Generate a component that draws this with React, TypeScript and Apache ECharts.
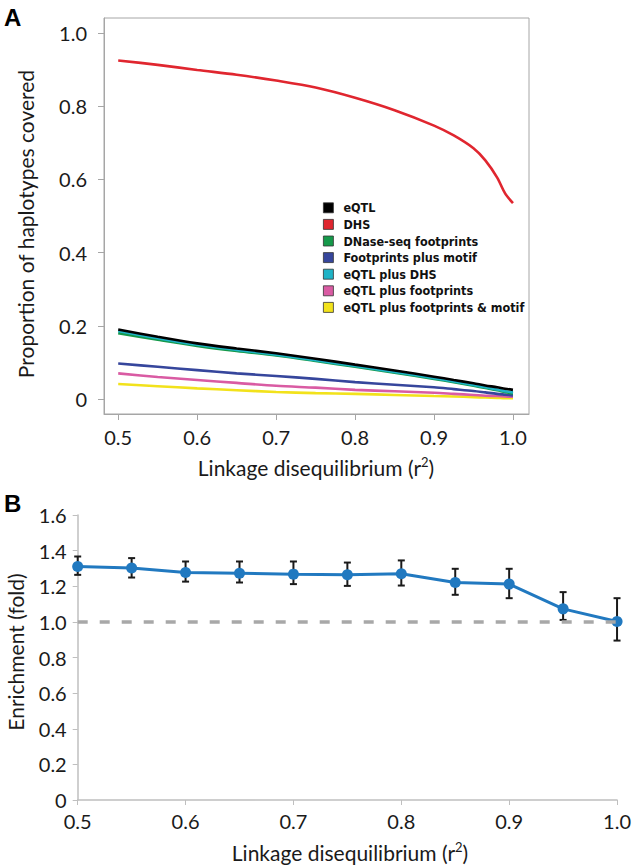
import React, { useEffect, useRef } from "react";
import * as echarts from "echarts";

// ---------- Panel A data ----------
const xA = [0.5, 0.55, 0.6, 0.65, 0.7, 0.75, 0.8, 0.85, 0.9, 0.925, 0.95, 0.965, 0.98, 0.99, 1.0];
const eqtl = [0.19, 0.17, 0.152, 0.138, 0.125, 0.11, 0.094, 0.078, 0.061, 0.052, 0.043, 0.037, 0.032, 0.028, 0.025];
const dhs = [0.925, 0.913, 0.899, 0.886, 0.87, 0.851, 0.823, 0.789, 0.747, 0.72, 0.685, 0.652, 0.605, 0.562, 0.535];
const dnaseFootprints = [0.18, 0.162, 0.145, 0.131, 0.119, 0.104, 0.088, 0.072, 0.055, 0.046, 0.036, 0.03, 0.024, 0.019, 0.015];
const footprintsMotif = [0.097, 0.088, 0.079, 0.07, 0.063, 0.055, 0.046, 0.039, 0.032, 0.027, 0.022, 0.018, 0.014, 0.012, 0.01];
const eqtlDhs = [0.186, 0.166, 0.148, 0.134, 0.121, 0.106, 0.09, 0.074, 0.057, 0.048, 0.038, 0.032, 0.026, 0.021, 0.018];
const eqtlFootprints = [0.07, 0.06, 0.052, 0.044, 0.036, 0.031, 0.025, 0.021, 0.017, 0.014, 0.011, 0.009, 0.008, 0.007, 0.006];
const eqtlFootprintsMotif = [0.041, 0.035, 0.029, 0.024, 0.019, 0.016, 0.014, 0.011, 0.008, 0.007, 0.005, 0.004, 0.003, 0.002, 0.002];
const yTicksA = [0, 0.2, 0.4, 0.6, 0.8, 1.0];
const xTicksA = [0.5, 0.6, 0.7, 0.8, 0.9, 1.0];

// ---------- Panel B data ----------
const xB = [0.5, 0.55, 0.6, 0.65, 0.7, 0.75, 0.8, 0.85, 0.9, 0.95, 1.0];
const enrichment = [1.311, 1.302, 1.277, 1.273, 1.268, 1.264, 1.27, 1.221, 1.212, 1.073, 1.002];
const errLow = [1.264, 1.249, 1.226, 1.221, 1.212, 1.202, 1.204, 1.152, 1.133, 1.011, 0.895];
const errHigh = [1.367, 1.358, 1.339, 1.339, 1.339, 1.333, 1.345, 1.298, 1.298, 1.167, 1.133];
const baseline = 1.0;

const seriesA = [
  { name: "eQTL plus footprints & motif", data: eqtlFootprintsMotif, color: "#f2e21b" },
  { name: "eQTL plus footprints", data: eqtlFootprints, color: "#d95ba3" },
  { name: "Footprints plus motif", data: footprintsMotif, color: "#36469c" },
  { name: "DNase-seq footprints", data: dnaseFootprints, color: "#15994a" },
  { name: "eQTL plus DHS", data: eqtlDhs, color: "#1fb3c6" },
  { name: "DHS", data: dhs, color: "#e0262f" },
  { name: "eQTL", data: eqtl, color: "#000000" },
];
const legendOrder = [
  "eQTL",
  "DHS",
  "DNase-seq footprints",
  "Footprints plus motif",
  "eQTL plus DHS",
  "eQTL plus footprints",
  "eQTL plus footprints & motif",
];

const FONT = "Lato, 'Open Sans', sans-serif";
const AXIS_GRAY = "#a6a6a6";

export default function App() {
  const ref = useRef<HTMLDivElement>(null);
  useEffect(() => {
    document.body.style.margin = "0";
    const chart = echarts.init(ref.current!, null, { renderer: "svg" });
    const tickFmt = (v: number) => (Math.abs(v) < 1e-9 ? "0" : v.toFixed(1));
    const labelStyle = { color: "#1a1a1a", fontFamily: FONT, fontSize: 20 };
    const titleFont = `21px ${FONT}`;
    const supRich = { sup: { fontSize: 13, fontFamily: FONT, fill: "#1a1a1a", padding: [0, 0, 10, 0] } };
    const option: any = {
      animation: false,
      backgroundColor: "#ffffff",
      grid: [
        { left: 104, top: 18, width: 425, height: 396, show: true, borderColor: AXIS_GRAY, borderWidth: 1, backgroundColor: "transparent" },
        { left: 77.7, top: 515, width: 545, height: 285 },
      ],
      xAxis: [
        {
          gridIndex: 0,
          type: "value",
          min: 0.482,
          max: 1.0203,
          splitLine: { show: false },
          axisLine: { show: true, onZero: false, lineStyle: { color: AXIS_GRAY } },
          axisTick: { show: true, customValues: xTicksA, length: 6, lineStyle: { color: AXIS_GRAY } },
          axisLabel: { customValues: xTicksA, formatter: tickFmt, margin: 13, ...labelStyle },
        },
        {
          gridIndex: 1,
          type: "value",
          min: 0.5,
          max: 1.0,
          interval: 0.1,
          splitLine: { show: false },
          axisLine: { show: true, onZero: false, lineStyle: { color: "#bfbfbf", width: 1.5 } },
          axisTick: { show: true, length: 5, lineStyle: { color: "#bfbfbf" } },
          axisLabel: { formatter: tickFmt, margin: 11, ...labelStyle },
        },
      ],
      yAxis: [
        {
          gridIndex: 0,
          type: "value",
          min: -0.041,
          max: 1.041,
          splitLine: { show: false },
          axisLine: { show: true, onZero: false, lineStyle: { color: AXIS_GRAY } },
          axisTick: { show: true, customValues: yTicksA, length: 6, lineStyle: { color: AXIS_GRAY } },
          axisLabel: { customValues: yTicksA, formatter: tickFmt, margin: 17, ...labelStyle },
        },
        {
          gridIndex: 1,
          type: "value",
          min: 0,
          max: 1.6,
          interval: 0.2,
          splitLine: { show: false },
          axisLine: { show: true, lineStyle: { color: "#bfbfbf", width: 1.5 } },
          axisTick: { show: true, length: 5, lineStyle: { color: "#bfbfbf" } },
          axisLabel: { formatter: tickFmt, margin: 11, ...labelStyle },
        },
      ],
      legend: {
        data: legendOrder,
        orient: "vertical",
        left: 323,
        top: 201,
        padding: 0,
        itemWidth: 10,
        itemHeight: 10,
        itemGap: 3,
        icon: "rect",
        itemStyle: { borderColor: "#333", borderWidth: 0.8 },
        textStyle: {
          fontFamily: "'Liberation Sans Narrow', 'DejaVu Sans Condensed', sans-serif",
          fontWeight: "bold",
          fontSize: 12.5,
          color: "#111",
          lineHeight: 13.6,
          padding: [0, 0, 0, 5],
        },
        selectedMode: false,
      },
      series: [
        ...seriesA.map((s) => ({
          name: s.name,
          type: "line",
          xAxisIndex: 0,
          yAxisIndex: 0,
          data: xA.map((x, i) => [x, s.data[i]]),
          showSymbol: false,
          symbol: "none",
          smooth: 0.3,
          itemStyle: { color: s.color },
          lineStyle: { color: s.color, width: 2.6 },
        })),
        {
          name: "errors",
          type: "custom",
          xAxisIndex: 1,
          yAxisIndex: 1,
          data: xB.map((x, i) => [x, errLow[i], errHigh[i]]),
          clip: false,
          renderItem: (params: any, api: any) => {
            const x = api.value(0);
            const lo = api.coord([x, api.value(1)]);
            const hi = api.coord([x, api.value(2)]);
            const style = { stroke: "#1a1a1a", lineWidth: 2 };
            const hw = 3.5;
            return {
              type: "group",
              children: [
                { type: "line", shape: { x1: lo[0], y1: lo[1], x2: hi[0], y2: hi[1] }, style },
                { type: "line", shape: { x1: hi[0] - hw, y1: hi[1], x2: hi[0] + hw, y2: hi[1] }, style },
                { type: "line", shape: { x1: lo[0] - hw, y1: lo[1], x2: lo[0] + hw, y2: lo[1] }, style },
              ],
            };
          },
          z: 3,
        },
        {
          name: "Enrichment",
          type: "line",
          xAxisIndex: 1,
          yAxisIndex: 1,
          data: xB.map((x, i) => [x, enrichment[i]]),
          symbol: "circle",
          symbolSize: 11,
          clip: false,
          itemStyle: { color: "#2179c0" },
          lineStyle: { color: "#2179c0", width: 3 },
          markLine: {
            silent: true,
            symbol: "none",
            label: { show: false },
            lineStyle: { color: "#a8a8a8", type: [10, 12], width: 3.5 },
            data: [{ yAxis: baseline }],
          },
          z: 4,
        },
      ],
      graphic: [
        { type: "text", left: 4, top: 5, style: { text: "A", font: "bold 24px 'Liberation Sans', Arial, sans-serif", fill: "#000" } },
        { type: "text", left: 4, top: 491, style: { text: "B", font: "bold 24px 'Liberation Sans', Arial, sans-serif", fill: "#000" } },
        {
          type: "text",
          x: 25,
          y: 224,
          rotation: Math.PI / 2,
          style: { text: "Proportion of haplotypes covered", font: titleFont, fill: "#1a1a1a", align: "center", verticalAlign: "middle" },
        },
        {
          type: "text",
          x: 15,
          y: 652,
          rotation: Math.PI / 2,
          style: { text: "Enrichment (fold)", font: titleFont, fill: "#1a1a1a", align: "center", verticalAlign: "middle" },
        },
        {
          type: "text",
          x: 316,
          y: 467,
          style: {
            text: "Linkage disequilibrium (r{sup|2})",
            font: titleFont,
            fill: "#1a1a1a",
            align: "center",
            verticalAlign: "middle",
            rich: supRich,
          },
        },
        {
          type: "text",
          x: 350,
          y: 852,
          style: {
            text: "Linkage disequilibrium (r{sup|2})",
            font: titleFont,
            fill: "#1a1a1a",
            align: "center",
            verticalAlign: "middle",
            rich: supRich,
          },
        },
      ],
    };
    chart.setOption(option);
    return () => chart.dispose();
  }, []);
  return <div ref={ref} style={{ width: 634, height: 867 }} />;
}
